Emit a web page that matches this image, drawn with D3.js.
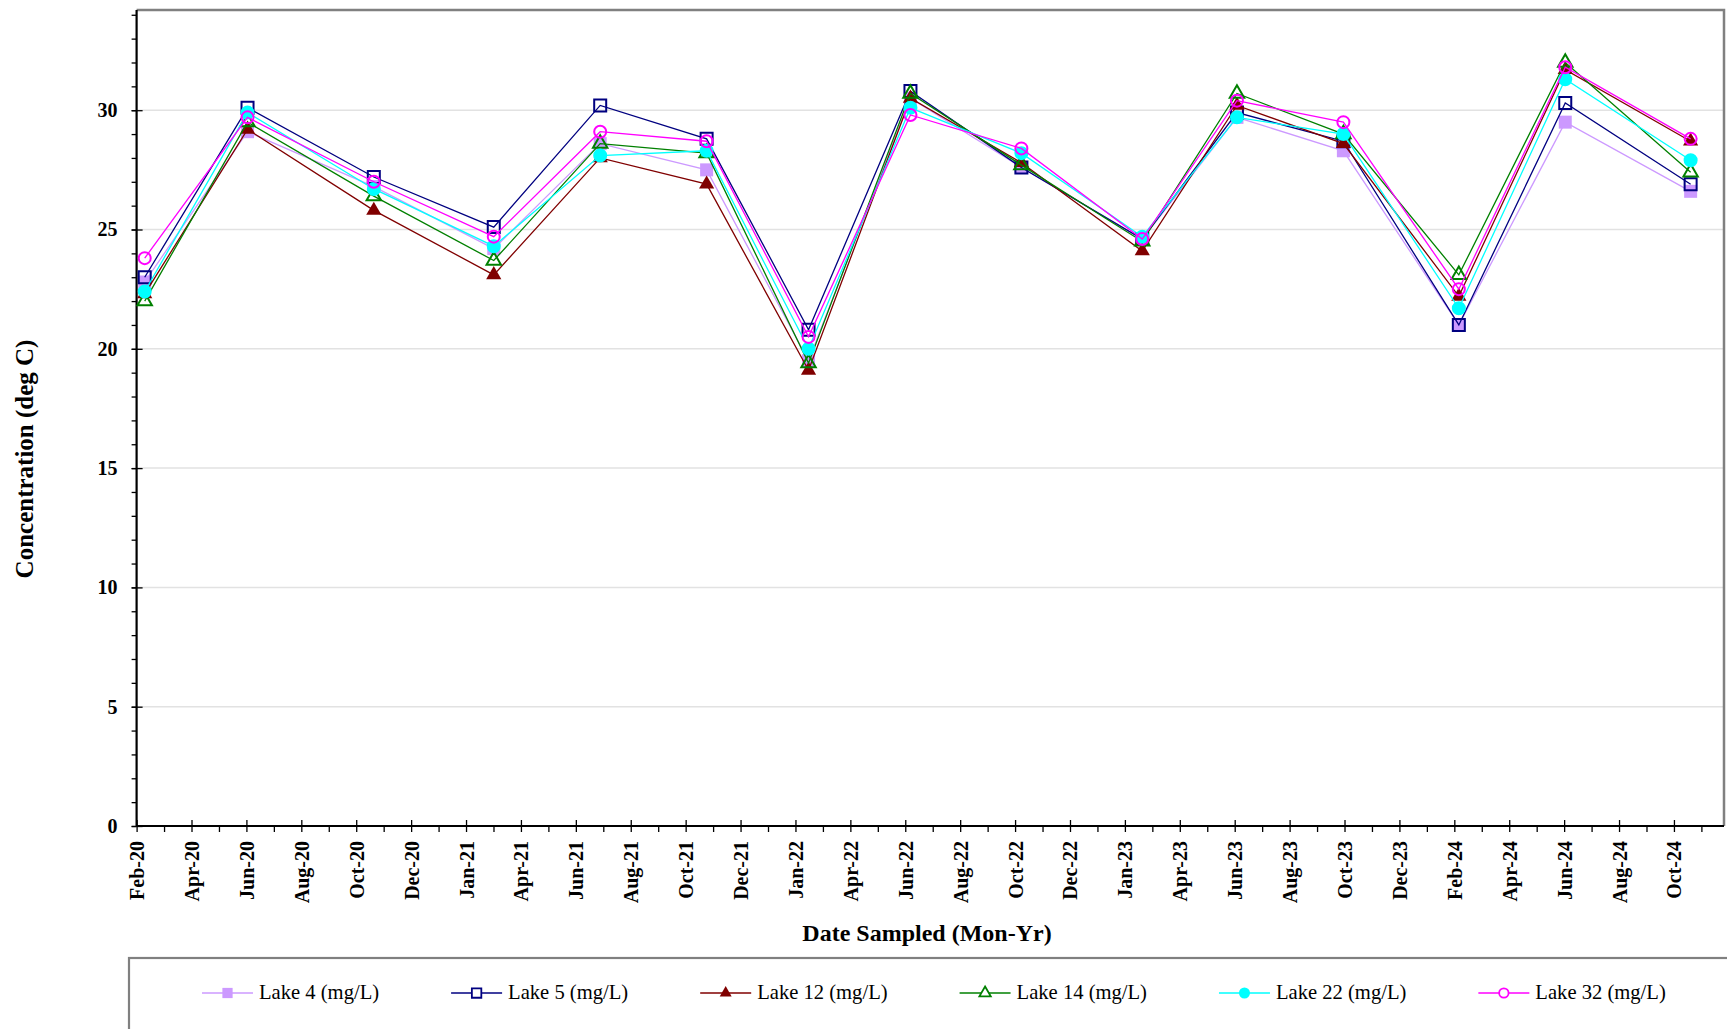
<!DOCTYPE html>
<html>
<head>
<meta charset="utf-8">
<script src="https://cdn.jsdelivr.net/npm/d3@7"></script>
<style>
  body { margin: 0; background: #fff; }
  svg { display: block; }
  text { font-family: "Liberation Serif", "Times New Roman", serif; fill: #000; }
</style>
</head>
<body>
<svg id="chart" width="1727" height="1029"></svg>
<script>
// ---- data -------------------------------------------------------------
const sampleDates = ["2020-02-10", "2020-06-03", "2020-10-21", "2021-03-03", "2021-06-29",
                     "2021-10-25", "2022-02-15", "2022-06-08", "2022-10-09", "2023-02-20",
                     "2023-06-05", "2023-10-01", "2024-02-06", "2024-06-03", "2024-10-20"];

const seriesNames = ["Lake 4 (mg/L)", "Lake 5 (mg/L)", "Lake 12 (mg/L)",
                     "Lake 14 (mg/L)", "Lake 22 (mg/L)", "Lake 32 (mg/L)"];

const lake4  = [22.8, 29.1, 26.8, 24.2, 28.6, 27.5, 19.5, 30.5, 27.6, 24.6, 29.7, 28.3, 21.0, 29.5, 26.6];
const lake5  = [23.0, 30.1, 27.2, 25.1, 30.2, 28.8, 20.8, 30.8, 27.6, 24.6, 29.9, 28.7, 21.0, 30.3, 26.9];
const lake12 = [22.3, 29.2, 25.8, 23.1, 28.0, 26.9, 19.1, 30.5, 27.8, 24.1, 30.2, 28.6, 22.2, 31.7, 28.7];
const lake14 = [22.0, 29.5, 26.4, 23.7, 28.6, 28.2, 19.4, 30.7, 27.7, 24.5, 30.7, 29.0, 23.1, 32.0, 27.4];
const lake22 = [22.4, 29.9, 26.7, 24.3, 28.1, 28.3, 20.0, 30.1, 28.2, 24.7, 29.7, 29.0, 21.7, 31.3, 27.9];
const lake32 = [23.8, 29.7, 27.0, 24.7, 29.1, 28.7, 20.5, 29.8, 28.4, 24.6, 30.4, 29.5, 22.5, 31.8, 28.8];

const xTickLabels = ["Feb-20", "Apr-20", "Jun-20", "Aug-20", "Oct-20", "Dec-20", "Jan-21", "Apr-21",
                     "Jun-21", "Aug-21", "Oct-21", "Dec-21", "Jan-22", "Apr-22", "Jun-22", "Aug-22",
                     "Oct-22", "Dec-22", "Jan-23", "Apr-23", "Jun-23", "Aug-23", "Oct-23", "Dec-23",
                     "Feb-24", "Apr-24", "Jun-24", "Aug-24", "Oct-24"];

const yTickValues = [0, 5, 10, 15, 20, 25, 30];

// ---- series styling ----------------------------------------------------
const seriesStyle = [
  { color: "#CC99FF", shape: d3.symbolSquare,   size: 169, filled: true  },
  { color: "#000080", shape: d3.symbolSquare,   size: 144, filled: false },
  { color: "#800000", shape: d3.symbolTriangle, size: 100, filled: true  },
  { color: "#008000", shape: d3.symbolTriangle, size: 90,  filled: false },
  { color: "#00FFFF", shape: d3.symbolCircle,   size: 154, filled: true  },
  { color: "#FF00FF", shape: d3.symbolCircle,   size: 113, filled: false }
];
const seriesValues = [lake4, lake5, lake12, lake14, lake22, lake32];

// ---- scales ---------------------------------------------------------------
const parse = d3.timeParse("%Y-%m-%d");
const DAY = 864e5;
const axisStart = parse("2020-02-01");
const tickStepDays = 365.25 / 6;               // one labelled tick every sixth of a year
const axisEnd = new Date(+axisStart + 1760 * DAY);

const plot = { left: 136.6, right: 1724, top: 10, bottom: 826 };

const x = d3.scaleTime().domain([axisStart, axisEnd]).range([plot.left, plot.right]);
const y = d3.scaleLinear().domain([0, 34.2]).range([plot.bottom, plot.top]);

const majorTicks = xTickLabels.map((_, i) => new Date(+axisStart + i * tickStepDays * DAY));
const minorTicks = xTickLabels.map((_, i) => new Date(+axisStart + (i + 0.5) * tickStepDays * DAY));
const yMinor = d3.range(0, 35, 1);

const svg = d3.select("#chart");

// ---- horizontal gridlines ---------------------------------------------
svg.append("g")
  .selectAll("line")
  .data(yTickValues.filter(v => v > 0))
  .join("line")
  .attr("x1", plot.left).attr("x2", plot.right)
  .attr("y1", d => y(d)).attr("y2", d => y(d))
  .attr("stroke", "#e2e2e2").attr("stroke-width", 1.5);

// ---- plot frame (top / right) -----------------------------------------
svg.append("path")
  .attr("d", `M${plot.left},${plot.top}H${plot.right}V${plot.bottom}`)
  .attr("fill", "none").attr("stroke", "#808080").attr("stroke-width", 2.5);

// ---- y axis -------------------------------------------------------------
const yAxisG = svg.append("g").attr("transform", `translate(${plot.left},0)`);
yAxisG.append("g").call(d3.axisLeft(y).tickValues(yMinor).tickSize(5).tickFormat(""));
yAxisG.append("g").call(d3.axisRight(y).tickValues(yTickValues).tickSize(6).tickFormat(""));
yAxisG.append("g").call(d3.axisLeft(y).tickValues(yTickValues).tickSize(5).tickPadding(14).tickFormat(d3.format("d")))
  .selectAll("text")
  .style("font-size", "20px").style("font-weight", "bold");
yAxisG.selectAll(".domain").remove();
yAxisG.selectAll(".tick line").attr("stroke", "#000").attr("stroke-width", 1.3);
yAxisG.append("line")
  .attr("x1", 0).attr("x2", 0).attr("y1", plot.top).attr("y2", plot.bottom)
  .attr("stroke", "#000").attr("stroke-width", 2.2);

// ---- x axis -------------------------------------------------------------
const xAxisG = svg.append("g").attr("transform", `translate(0,${plot.bottom})`);
xAxisG.append("g").call(d3.axisBottom(x).tickValues(minorTicks).tickSize(6).tickFormat(""));
xAxisG.append("g").call(d3.axisTop(x).tickValues(majorTicks).tickSize(6).tickFormat(""));
xAxisG.append("g").call(d3.axisBottom(x).tickValues(majorTicks).tickSize(6).tickFormat((d, i) => xTickLabels[i]))
  .selectAll("text")
  .attr("transform", "rotate(-90)")
  .attr("x", -15).attr("y", 0).attr("dy", "0.35em")
  .attr("text-anchor", "end")
  .style("font-size", "20px").style("font-weight", "bold");
xAxisG.selectAll(".domain").remove();
xAxisG.selectAll(".tick line").attr("stroke", "#000").attr("stroke-width", 1.3);
xAxisG.append("line")
  .attr("x1", plot.left).attr("x2", plot.right).attr("y1", 0).attr("y2", 0)
  .attr("stroke", "#000").attr("stroke-width", 2.2);

// ---- axis titles --------------------------------------------------------
svg.append("text")
  .attr("x", 927).attr("y", 941)
  .attr("text-anchor", "middle")
  .style("font-size", "24px").style("font-weight", "bold")
  .text("Date Sampled (Mon-Yr)");

svg.append("text")
  .attr("transform", "translate(24,459) rotate(-90)")
  .attr("text-anchor", "middle").attr("dominant-baseline", "central")
  .style("font-size", "25px").style("font-weight", "bold")
  .text("Concentration (deg C)");

// ---- series -------------------------------------------------------------
const line = d3.line().x(d => x(d.date)).y(d => y(d.value));

seriesValues.forEach((vals, s) => {
  const st = seriesStyle[s];
  const pts = vals.map((v, i) => ({ date: parse(sampleDates[i]), value: v }));
  const g = svg.append("g").attr("class", "series");
  g.append("path")
    .datum(pts)
    .attr("d", line)
    .attr("fill", "none")
    .attr("stroke", st.color)
    .attr("stroke-width", 1.3);
  g.selectAll("path.marker")
    .data(pts)
    .join("path")
    .attr("class", "marker")
    .attr("transform", d => `translate(${x(d.date)},${y(d.value)})`)
    .attr("d", d3.symbol().type(st.shape).size(st.size))
    .attr("fill", st.filled ? st.color : "none")
    .attr("stroke", st.filled ? "none" : st.color)
    .attr("stroke-width", st.filled ? 0 : 2);
});

// ---- legend -------------------------------------------------------------
svg.append("rect")
  .attr("x", 129).attr("y", 958)
  .attr("width", 1700).attr("height", 200)
  .attr("fill", "none").attr("stroke", "#808080").attr("stroke-width", 2.2);

let cursor = 202;
const legendY = 993;
seriesNames.forEach((name, s) => {
  const st = seriesStyle[s];
  const g = svg.append("g").attr("class", "legend-item");
  g.append("line")
    .attr("x1", cursor).attr("x2", cursor + 51)
    .attr("y1", legendY).attr("y2", legendY)
    .attr("stroke", st.color).attr("stroke-width", 1.8).attr("stroke-opacity", 0.75);
  g.append("path")
    .attr("transform", `translate(${cursor + 25.5},${legendY})`)
    .attr("d", d3.symbol().type(st.shape).size(st.size * 0.62))
    .attr("fill", st.filled ? st.color : "#fff")
    .attr("stroke", st.filled ? "none" : st.color)
    .attr("stroke-width", st.filled ? 0 : 1.8);
  const t = g.append("text")
    .attr("x", cursor + 57).attr("y", legendY + 6)
    .style("font-size", "20.6px")
    .text(name);
  cursor += 57 + t.node().getComputedTextLength() + 72;
});
</script>
</body>
</html>
